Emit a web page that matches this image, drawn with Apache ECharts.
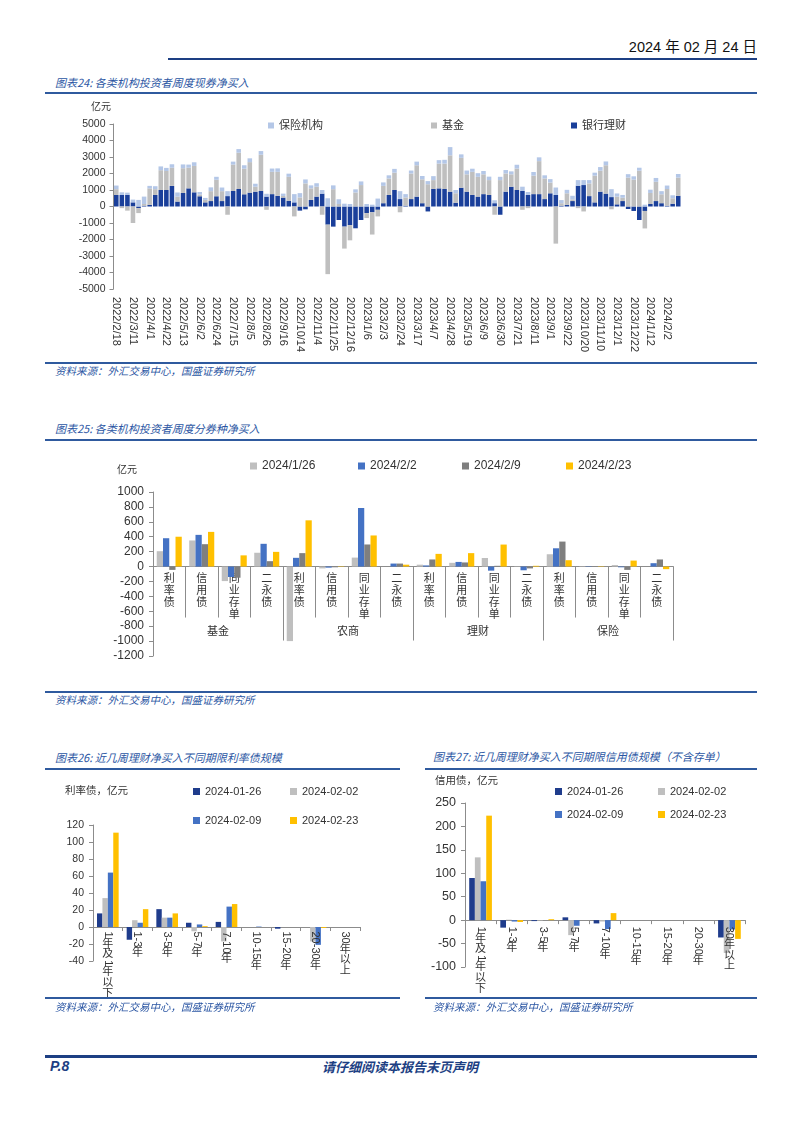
<!DOCTYPE html>
<html><head><meta charset="utf-8">
<script src="https://cdn.jsdelivr.net/npm/echarts@6/dist/echarts.min.js"></script>
<style>
body{margin:0;background:#fff;}
#page{position:relative;width:802px;height:1133px;overflow:hidden;font-family:"Noto Sans CJK SC","Liberation Sans",sans-serif;background:#fff;}
.ab{position:absolute;white-space:nowrap;}
.ttl{font-size:11px;font-style:italic;color:#2b56a3;line-height:14px;}
.src{font-size:10.5px;font-style:italic;color:#2b56a3;line-height:14px;}
.ln{position:absolute;background:#2f5a9e;}
.ch{position:absolute;}
</style></head><body><div id="page">
<div class="ab" style="right:45px;top:38px;font-size:14.5px;line-height:18px;color:#111;font-family:'Liberation Sans Narrow','Liberation Sans','Noto Sans CJK SC',sans-serif;">2024 年 02 月 24 日</div>
<div class="ln" style="left:168px;top:58px;width:589px;height:2px;background:#1d3f83;"></div>

<div class="ab ttl" style="left:55px;top:75px;">图表24: 各类机构投资者周度现券净买入</div>
<div class="ln" style="left:45px;top:92px;width:712px;height:1.5px;"></div>
<div id="c24" class="ch" style="left:0;top:100px;width:802px;height:262px;"></div>
<div class="ln" style="left:45px;top:362px;width:712px;height:1.5px;"></div>
<div class="ab src" style="left:55px;top:364px;">资料来源：外汇交易中心，国盛证券研究所</div>

<div class="ab ttl" style="left:55px;top:421px;">图表25: 各类机构投资者周度分券种净买入</div>
<div class="ln" style="left:45px;top:439px;width:712px;height:1.5px;"></div>
<div id="c25" class="ch" style="left:0;top:440px;width:802px;height:250px;"></div>
<div class="ln" style="left:45px;top:691px;width:712px;height:1.5px;"></div>
<div class="ab src" style="left:55px;top:693px;">资料来源：外汇交易中心，国盛证券研究所</div>

<div class="ab ttl" style="left:55px;top:750px;">图表26: 近几周理财净买入不同期限利率债规模</div>
<div class="ln" style="left:45px;top:768px;width:355px;height:1.5px;"></div>
<div class="ab ttl" style="left:433px;top:749px;">图表27: 近几周理财净买入不同期限信用债规模（不含存单）</div>
<div class="ln" style="left:425px;top:768px;width:332px;height:1.5px;"></div>
<div id="c26" class="ch" style="left:0;top:770px;width:410px;height:228px;"></div>
<div id="c27" class="ch" style="left:420px;top:770px;width:382px;height:228px;"></div>
<div class="ln" style="left:45px;top:997px;width:355px;height:1.5px;"></div>
<div class="ab src" style="left:55px;top:1000px;">资料来源：外汇交易中心，国盛证券研究所</div>
<div class="ln" style="left:425px;top:997px;width:332px;height:1.5px;"></div>
<div class="ab src" style="left:433px;top:1000px;">资料来源：外汇交易中心，国盛证券研究所</div>

<div class="ln" style="left:45px;top:1055px;width:712px;height:2.5px;background:#1d3f83;"></div>
<div class="ab" style="left:50px;top:1057px;font-size:14px;line-height:18px;font-weight:bold;font-style:italic;color:#1d3f83;font-family:'Liberation Sans',sans-serif;">P.8</div>
<div class="ab" style="left:322px;top:1058px;font-size:13px;line-height:17px;font-weight:bold;font-style:italic;color:#1d3f83;">请仔细阅读本报告末页声明</div>
</div>
<script>
// ---------- 图表24 data ----------
const weekDates = ['2022/2/18','2022/2/25','2022/3/4','2022/3/11','2022/3/18','2022/3/25','2022/4/1','2022/4/8','2022/4/15','2022/4/22',
'2022/4/29','2022/5/6','2022/5/13','2022/5/20','2022/5/27','2022/6/2','2022/6/10','2022/6/17','2022/6/24','2022/7/1',
'2022/7/8','2022/7/15','2022/7/22','2022/7/29','2022/8/5','2022/8/12','2022/8/19','2022/8/26','2022/9/2','2022/9/9',
'2022/9/16','2022/9/23','2022/9/30','2022/10/14','2022/10/21','2022/10/28','2022/11/4','2022/11/11','2022/11/18','2022/11/25',
'2022/12/2','2022/12/9','2022/12/16','2022/12/23','2022/12/30','2023/1/6','2023/1/13','2023/1/20','2023/2/3','2023/2/10',
'2023/2/17','2023/2/24','2023/3/3','2023/3/10','2023/3/17','2023/3/24','2023/3/31','2023/4/7','2023/4/14','2023/4/21',
'2023/4/28','2023/5/5','2023/5/12','2023/5/19','2023/5/26','2023/6/2','2023/6/9','2023/6/16','2023/6/21','2023/6/30',
'2023/7/7','2023/7/14','2023/7/21','2023/7/28','2023/8/4','2023/8/11','2023/8/18','2023/8/25','2023/9/1','2023/9/8',
'2023/9/15','2023/9/22','2023/9/28','2023/10/13','2023/10/20','2023/10/27','2023/11/3','2023/11/10','2023/11/17','2023/11/24',
'2023/12/1','2023/12/8','2023/12/15','2023/12/22','2023/12/29','2024/1/5','2024/1/12','2024/1/19','2024/1/26','2024/2/2',
'2024/2/9','2024/2/23'];
const bankWealth = [700,700,700,250,-100,50,100,700,1000,1000,
1250,300,820,1100,860,620,250,330,620,330,
630,940,1060,740,840,900,940,600,750,650,
540,350,250,-250,-170,400,600,780,-1100,-1220,
-820,-1220,-1130,-1320,-820,-400,-350,-200,200,700,
1000,450,50,450,600,200,-300,1060,1100,1060,
900,230,1140,900,700,600,750,700,200,-500,
900,1200,1000,940,700,750,750,450,800,700,
50,100,330,1260,1300,630,250,900,780,570,
130,330,-150,-270,-820,-270,150,330,200,50,
170,650];
const fundNet = [350,-100,-250,-1000,-300,100,1000,350,1200,1150,
1100,300,1500,1250,1600,100,150,600,1000,600,
-500,1600,2200,1550,1850,300,2200,-200,1350,1450,
100,1450,-600,550,1400,700,600,-500,-3000,1050,
150,-1330,-920,850,1300,-300,-1350,-400,1050,1000,
1050,-350,500,1550,1900,1450,1350,540,1500,1540,
2200,570,1810,1050,1400,1200,1200,900,-500,1600,
1100,750,1300,-200,-100,1120,2000,1250,650,-2250,
150,700,100,-100,-300,770,1620,1270,1720,-170,
470,200,1750,1630,2170,-1060,670,1170,540,1010,
330,1100];
const insuranceNet = [220,160,140,170,400,450,150,180,230,190,
210,250,230,190,220,160,120,230,180,220,
300,180,220,210,230,180,220,170,200,210,
140,190,500,260,240,180,210,220,500,230,
290,170,150,190,220,150,110,480,210,190,
230,480,200,180,220,200,190,240,210,230,
500,200,210,230,190,220,200,210,180,200,
210,180,230,260,180,220,230,190,210,450,
190,210,220,340,300,200,180,220,230,480,
190,170,210,200,180,110,200,230,190,210,
180,220];

// ---------- 图表25 data ----------
const institutions = ['基金','农商','理财','保险'];
const bondTypes = ['利率债','信用债','同业存单','二永债'];
const week0126 = [206,350,-195,185, -1000,-25,120,0, 25,50,115,-5, 165,5,20,0];
const week0202 = [380,425,-140,305, 117,-15,785,40, 15,62,-55,-50, 245,5,-10,45];
const week0209 = [-45,300,-150,72, 180,-10,296,40, 95,55,10,-25, 335,5,-45,95];
const week0223 = [400,465,150,197, 620,-5,417,25, 170,180,295,10, 85,-5,80,-35];

// ---------- 图表26 / 27 data ----------
const tenors = ['1年及1年以下','1-3年','3-5年','5-7年','7-10年','10-15年','15-20年','20-30年','30年以上'];
const rate0126 = [16,-15,21,5,6,0,-2,0,0];
const rate0202 = [34,8,11,-5,-17,0,0,-17,0];
const rate0209 = [64,5,11,3,24,0.5,0,-21,0];
const rate0223 = [111,21,16,1,27,0,0,-1,0];
const credit0126 = [90,-16,-2,6,-7,0,0,0,-37];
const credit0202 = [134,1,-1,-32,-3,0,0,0,-70];
const credit0209 = [83,-3,0,-12,-19,0,0,0,-20];
const credit0223 = [223,-4,2,0,15,0,0,0,-40];

const FONT = '"Liberation Sans","Noto Sans CJK SC",sans-serif';
const AX = '#8c8c8c';
const TXT = '#333';

function legendItem(name, left, top, fs, size) {
  return {data:[name], left:left, top:top, padding:0, itemGap:0, itemWidth:size, itemHeight:size, icon:'rect',
    textStyle:{fontSize:fs, color:TXT, fontFamily:FONT}, selectedMode:false};
}
function valueAxis(min, max, interval, fs, margin) {
  return {type:'value', min:min, max:max, interval:interval, splitLine:{show:false},
    axisLine:{show:true, lineStyle:{color:AX}}, axisTick:{show:true, length:4, lineStyle:{color:AX}},
    axisLabel:{fontSize:fs, color:TXT, margin:margin, fontFamily:FONT, formatter:function(v){ return String(v); }}};
}

// ---------- 图表24 ----------
const c24 = echarts.init(document.getElementById('c24'));
c24.setOption({
  animation:false, textStyle:{fontFamily:FONT},
  title:{text:'亿元', left:91, top:2, padding:0, textStyle:{fontSize:10, fontWeight:'normal', color:TXT, fontFamily:FONT}},
  legend:[legendItem('保险机构',268,20,11,6), legendItem('基金',431,20,11,6), legendItem('银行理财',571,20,11,6)],
  grid:{left:113.5, top:24, width:567.5, height:165, outerBoundsMode:'none'},
  xAxis:{type:'category', data:weekDates, axisLine:{show:false}, axisTick:{show:false},
    axisLabel:{interval:2, rotate:-90, fontSize:11, color:TXT, margin:8, fontFamily:FONT}},
  yAxis:valueAxis(-5000,5000,1000,10.5,8),
  series:[
    {name:'银行理财', type:'bar', stack:'a', data:bankWealth, itemStyle:{color:'#1a3f9a'}, barCategoryGap:'18%'},
    {name:'基金', type:'bar', stack:'a', data:fundNet, itemStyle:{color:'#bfbfbf'}},
    {name:'保险机构', type:'bar', stack:'a', data:insuranceNet, itemStyle:{color:'#b4c7e7'}}
  ]
});

// ---------- 图表25 ----------
const cat25 = [];
institutions.forEach(function(inst){ bondTypes.forEach(function(b){ cat25.push(inst + '|' + b); }); });
const y25 = {min:-1200, max:1000, interval:200};
const grid25 = {left:153, top:52, width:520, height:164};
// move the category axes from the grid bottom up to the zero line
const zeroOffset25 = -grid25.height * (0 - y25.min) / (y25.max - y25.min);
const c25 = echarts.init(document.getElementById('c25'));
function bar25(name, data, color) {
  return {name:name, type:'bar', xAxisIndex:0, data:data, itemStyle:{color:color}, barGap:'0%', barCategoryGap:'23%'};
}
c25.setOption({
  animation:false, textStyle:{fontFamily:FONT},
  title:{text:'亿元', left:117, top:25, padding:0, textStyle:{fontSize:10, fontWeight:'normal', color:TXT, fontFamily:FONT}},
  legend:[legendItem('2024/1/26',250,20,12,7), legendItem('2024/2/2',358,20,12,7), legendItem('2024/2/9',462,20,12,7), legendItem('2024/2/23',566,20,12,7)],
  grid:Object.assign({outerBoundsMode:'none'}, grid25),
  xAxis:[
    {type:'category', data:cat25, position:'bottom', offset:zeroOffset25, axisLine:{show:true, onZero:false, lineStyle:{color:AX}},
      axisTick:{show:true, length:51, interval:0, alignWithLabel:false, lineStyle:{color:AX, width:1}},
      axisLabel:{interval:0, fontSize:11, lineHeight:12, margin:6, color:TXT, fontFamily:FONT,
        formatter:function(v){ return v.split('|')[1].split('').join('\n'); }}},
    {type:'category', data:institutions, position:'bottom', offset:zeroOffset25, axisLine:{show:false, onZero:false},
      axisTick:{show:true, length:74, interval:0, alignWithLabel:false, lineStyle:{color:AX, width:1}},
      axisLabel:{interval:0, margin:60, fontSize:11, color:TXT, fontFamily:FONT}}
  ],
  yAxis:valueAxis(y25.min,y25.max,y25.interval,12,9),
  series:[
    bar25('2024/1/26', week0126, '#bfbfbf'),
    bar25('2024/2/2', week0202, '#4472c4'),
    bar25('2024/2/9', week0209, '#7f7f7f'),
    bar25('2024/2/23', week0223, '#ffc000')
  ]
});

// ---------- vertical tenor labels (Latin rotated, CJK upright) ----------
function tenorLabels(cats, fs, gap) {
  const ctx = document.createElement('canvas').getContext('2d');
  ctx.font = fs + 'px "Liberation Sans"';
  return {
    type:'custom', silent:true, clip:false, z:20, xAxisIndex:0, yAxisIndex:0,
    data:cats.map(function(c,i){ return [i,0]; }),
    renderItem:function(params, api){
      const i = api.value(0);
      const p = api.coord([i,0]);
      const tokens = cats[i].match(/[\x00-\x7f]+|[^\x00-\x7f]/g);
      let y = p[1] + gap;
      const children = [];
      tokens.forEach(function(t){
        const ascii = /^[\x00-\x7f]+$/.test(t);
        const h = ascii ? ctx.measureText(t).width + 1 : fs * 0.98;
        children.push({type:'text', x:p[0], y:y + h/2, rotation: ascii ? -Math.PI/2 : 0,
          style:{text:t, fontSize:fs, fontFamily:FONT, fill:TXT, align:'center', verticalAlign:'middle', textAlign:'center', textVerticalAlign:'middle'}});
        y += h;
      });
      return {type:'group', children:children};
    }
  };
}
function tenorOption(unit, unitLeft, unitTop, legends, grid, yMin, yMax, yInt, yFs, data, gap) {
  const colors = ['#1f3c8c','#bfbfbf','#4472c4','#ffc000'];
  const names = ['2024-01-26','2024-02-02','2024-02-09','2024-02-23'];
  const series = data.map(function(d,k){
    return {name:names[k], type:'bar', data:d, itemStyle:{color:colors[k]}, barGap:'0%', barCategoryGap:'27%'};
  });
  series.push(tenorLabels(tenors, 11, gap));
  return {
    animation:false, textStyle:{fontFamily:FONT},
    title:{text:unit, left:unitLeft, top:unitTop, padding:0, textStyle:{fontSize:10.5, fontWeight:'normal', color:TXT, fontFamily:FONT}},
    legend:legends.map(function(l,k){ return legendItem(names[k], l[0], l[1], 11, 7); }),
    grid:Object.assign({outerBoundsMode:'none'}, grid),
    xAxis:{type:'category', data:tenors, axisLine:{show:true, onZero:true, lineStyle:{color:AX}},
      axisTick:{show:true, length:4, interval:0, alignWithLabel:false, lineStyle:{color:AX}}, axisLabel:{show:false}},
    yAxis:valueAxis(yMin,yMax,yInt,yFs,9),
    series:series
  };
}
const c26 = echarts.init(document.getElementById('c26'));
c26.setOption(tenorOption('利率债，亿元', 65, 16, [[193,16],[290,16],[193,45],[290,45]],
  {left:93, top:55, width:267, height:136}, -40, 120, 20, 10.5,
  [rate0126, rate0202, rate0209, rate0223], 4));
const c27 = echarts.init(document.getElementById('c27'));
c27.setOption(tenorOption('信用债，亿元', 15, 6, [[135,16],[238,16],[135,39],[238,39]],
  {left:45, top:33, width:280, height:164}, -100, 250, 50, 12.5,
  [credit0126, credit0202, credit0209, credit0223], 6));
</script></body></html>
